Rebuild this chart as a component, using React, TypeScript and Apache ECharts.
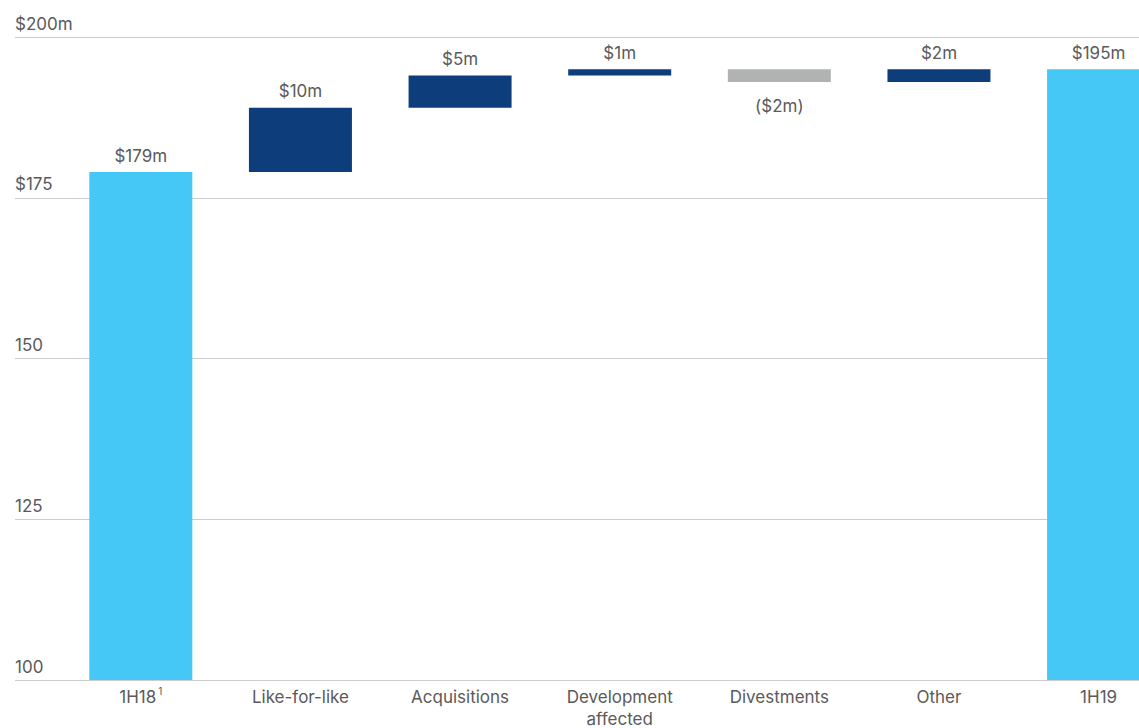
import React, { useEffect, useRef } from 'react';
import * as echarts from 'echarts';

const categories = ['1H18', 'Like-for-like', 'Acquisitions', 'Development\naffected', 'Divestments', 'Other', '1H19'];
const footnotes = ['1', '', '', '', '', '', ''];
const kinds = ['total', 'change', 'change', 'change', 'change', 'change', 'total'];
const values = [179, 10, 5, 1, -2, 2, 195];
const yTicks = [100, 125, 150, 175, 200];
const yTickLabels = ['100', '125', '150', '$175', '$200m'];

const COLOR_TOTAL = '#45C8F5';
const COLOR_UP = '#0D3D7B';
const COLOR_DOWN = '#B1B3B3';
const TEXT = '#5a5a5a';
const FONT = 'Inter, "Noto Sans", sans-serif';
const FS = 17;

function buildSeriesData() {
  const base: (number | string)[] = [];
  const totals: (number | string)[] = [];
  const ups: (number | string)[] = [];
  const downs: (number | string)[] = [];
  let running = 0;
  values.forEach((v, i) => {
    if (kinds[i] === 'total') {
      running = v;
      base.push('-');
      totals.push(v);
      ups.push('-');
      downs.push('-');
    } else if (v >= 0) {
      base.push(running);
      running += v;
      totals.push('-');
      ups.push(v);
      downs.push('-');
    } else {
      running += v;
      base.push(running);
      totals.push('-');
      ups.push('-');
      downs.push(-v);
    }
  });
  return { base, totals, ups, downs };
}

export default function App() {
  const ref = useRef<HTMLDivElement>(null);
  useEffect(() => {
    document.body.style.margin = '0';
    const chart = echarts.init(ref.current!, null, { renderer: 'svg' });
    const { base, totals, ups, downs } = buildSeriesData();
    const yMin = yTicks[0];
    const yMax = yTicks[yTicks.length - 1];
    const yStep = yTicks[1] - yTicks[0];
    const labelCommon = {
      show: true,
      color: TEXT,
      fontSize: FS,
      fontFamily: FONT,
    };
    const option: any = {
      animation: false,
      textStyle: { fontFamily: FONT },
      grid: [
        { left: 61, width: 1117.4, top: 37, bottom: 48, outerBoundsMode: 'none', containLabel: false },
        { left: 15, right: 0, top: 37, bottom: 48, outerBoundsMode: 'none', containLabel: false },
      ],
      xAxis: [
        {
          type: 'category',
          gridIndex: 0,
          data: categories,
          axisLine: { show: false },
          axisTick: { show: false },
          axisLabel: {
            color: TEXT,
            fontSize: FS,
            fontFamily: FONT,
            lineHeight: 22,
            margin: 6,
            interval: 0,
            formatter: (v: string, i: number) =>
              footnotes[i] ? `${v}{sup|${footnotes[i]}}` : v,
            rich: {
              sup: {
                fontSize: 10,
                color: TEXT,
                fontFamily: FONT,
                verticalAlign: 'top',
                padding: [0, 0, 8, 2],
              },
            },
          },
        },
        { type: 'value', gridIndex: 1, min: 0, max: 1, show: false },
      ],
      yAxis: [
        {
          type: 'value',
          gridIndex: 0,
          min: yMin,
          max: yMax,
          interval: yStep,
          show: false,
        },
        {
          type: 'value',
          gridIndex: 1,
          min: yMin,
          max: yMax,
          interval: yStep,
          axisLine: { show: false },
          axisTick: { show: false },
          splitLine: { show: true, lineStyle: { color: '#cccccc', width: 1 } },
          axisLabel: {
            inside: true,
            margin: 0,
            color: TEXT,
            fontSize: FS,
            fontFamily: FONT,
            verticalAlign: 'bottom',
            padding: [0, 0, 5, 0],
            formatter: (v: number) => {
              const idx = yTicks.indexOf(v);
              return idx >= 0 ? yTickLabels[idx] : '';
            },
          },
        },
      ],
      series: [
        {
          name: 'base',
          type: 'bar',
          stack: 'w',
          xAxisIndex: 0,
          yAxisIndex: 0,
          barWidth: 103,
          data: base,
          itemStyle: { color: 'transparent' },
          silent: true,
        },
        {
          name: 'total',
          type: 'bar',
          stack: 'w',
          xAxisIndex: 0,
          yAxisIndex: 0,
          barWidth: 103,
          data: totals,
          itemStyle: { color: COLOR_TOTAL },
          label: {
            ...labelCommon,
            position: 'top',
            distance: 8,
            formatter: (p: any) => `$${p.value}m`,
          },
        },
        {
          name: 'increase',
          type: 'bar',
          stack: 'w',
          xAxisIndex: 0,
          yAxisIndex: 0,
          barWidth: 103,
          data: ups,
          itemStyle: { color: COLOR_UP },
          label: {
            ...labelCommon,
            position: 'top',
            distance: 8,
            formatter: (p: any) => `$${p.value}m`,
          },
        },
        {
          name: 'decrease',
          type: 'bar',
          stack: 'w',
          xAxisIndex: 0,
          yAxisIndex: 0,
          barWidth: 103,
          data: downs,
          itemStyle: { color: COLOR_DOWN },
          label: {
            ...labelCommon,
            position: 'bottom',
            distance: 15,
            formatter: (p: any) => `($${p.value}m)`,
          },
        },
      ],
    };
    chart.setOption(option);
    return () => chart.dispose();
  }, []);
  return <div ref={ref} style={{ width: 1139, height: 728, overflow: 'hidden' }} />;
}
